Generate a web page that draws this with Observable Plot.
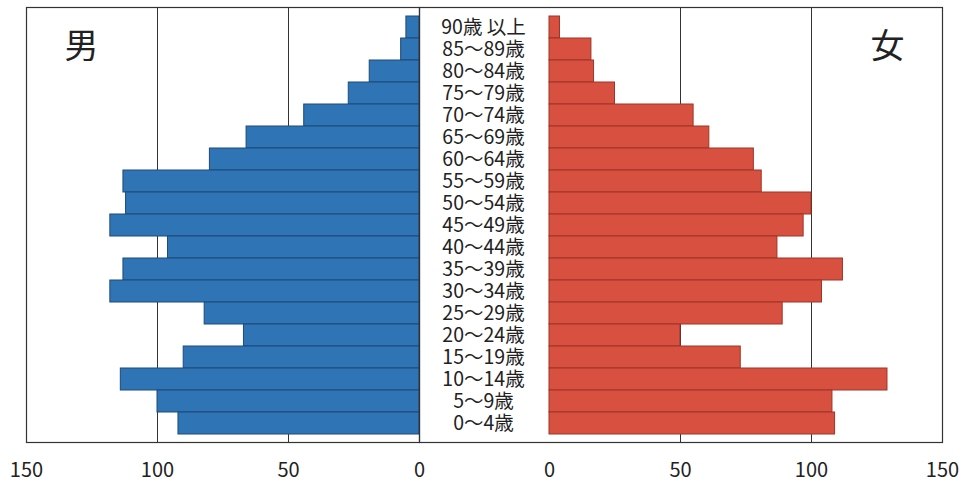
<!DOCTYPE html>
<html>
<head>
<meta charset="utf-8">
<script src="https://cdn.jsdelivr.net/npm/d3@7"></script>
<script src="https://cdn.jsdelivr.net/npm/@observablehq/plot@0.6"></script>
<style>
  html, body { margin: 0; padding: 0; background: #fff; }
  #chart { display: flex; width: 965px; height: 483px; }
  #chart svg { display: block; overflow: visible; background: transparent; font-family: "Noto Sans CJK JP", "Noto Sans", sans-serif; }
</style>
</head>
<body>
<div id="chart"></div>
<script>
// Age groups, oldest at the top
const ageGroups = [
  "90歳 以上", "85～89歳", "80～84歳", "75～79歳", "70～74歳", "65～69歳",
  "60～64歳", "55～59歳", "50～54歳", "45～49歳", "40～44歳", "35～39歳",
  "30～34歳", "25～29歳", "20～24歳", "15～19歳", "10～14歳", "5～9歳", "0～4歳"
];
// Population by age group (persons)
const male = [5, 7, 19, 27, 44, 66, 80, 113, 112, 118, 96, 113, 118, 82, 67, 90, 114, 100, 92];
const female = [4, 16, 17, 25, 55, 61, 78, 81, 100, 97, 87, 112, 104, 89, 50, 73, 129, 108, 109];
const xTicks = [0, 50, 100, 150];
const gridValues = [50, 100];

const maleRows = ageGroups.map((age, i) => ({age, value: male[i]}));
const femaleRows = ageGroups.map((age, i) => ({age, value: female[i]}));

const H = 483, MT = 7, MB = 41;
const leftW = 419, rightW = 965 - leftW;
const pxPerUnit = (leftW - 26) / 150;
// width of the centre label column, in data units of the right panel
const labelGap = (rightW - 23) / pxPerUnit - 150;

const yScale = {domain: ageGroups, padding: 0, axis: null};
const axisFont = {fontSize: 20, fill: "#222"};
const svgStyle = {overflow: "visible", background: "transparent"};

const left = Plot.plot({
  width: leftW, height: H, style: svgStyle,
  marginLeft: 26, marginRight: 0, marginTop: MT, marginBottom: MB,
  x: {domain: [150, 0], ticks: xTicks, label: null},
  y: yScale,
  marks: [
    Plot.ruleX(gridValues, {stroke: "#333", strokeWidth: 1}),
    Plot.barX(maleRows, {x: "value", y: "age", fill: "#2f75b5", stroke: "#1d4a78", strokeWidth: 1, inset: 0}),
    Plot.frame({stroke: "#333", strokeWidth: 1.2}),
    Plot.axisX(xTicks, {anchor: "bottom", tickSize: 0, tickPadding: 20, ...axisFont, label: null}),
    Plot.text(["男"], {frameAnchor: "top-left", dx: 55, dy: 40, fontSize: 34, fill: "#222", textAnchor: "middle", lineAnchor: "middle"})
  ]
});

const right = Plot.plot({
  width: rightW, height: H, style: svgStyle,
  marginLeft: 0, marginRight: 23, marginTop: MT, marginBottom: MB,
  x: {domain: [-labelGap, 150], ticks: xTicks, label: null},
  y: yScale,
  marks: [
    Plot.ruleX(gridValues, {stroke: "#333", strokeWidth: 1}),
    Plot.barX(femaleRows, {x: "value", y: "age", fill: "#d85040", stroke: "#9e3527", strokeWidth: 1, inset: 0}),
    Plot.text(ageGroups, {y: d => d, frameAnchor: "left", dx: 64, textAnchor: "middle", fontSize: 19.5, fill: "#222"}),
    Plot.frame({stroke: "#333", strokeWidth: 1.2}),
    Plot.axisX(xTicks, {anchor: "bottom", tickSize: 0, tickPadding: 20, ...axisFont, label: null}),
    Plot.text(["女"], {frameAnchor: "top-right", dx: -55, dy: 40, fontSize: 34, fill: "#222", textAnchor: "middle", lineAnchor: "middle"})
  ]
});

document.getElementById("chart").append(left, right);
</script>
</body>
</html>
